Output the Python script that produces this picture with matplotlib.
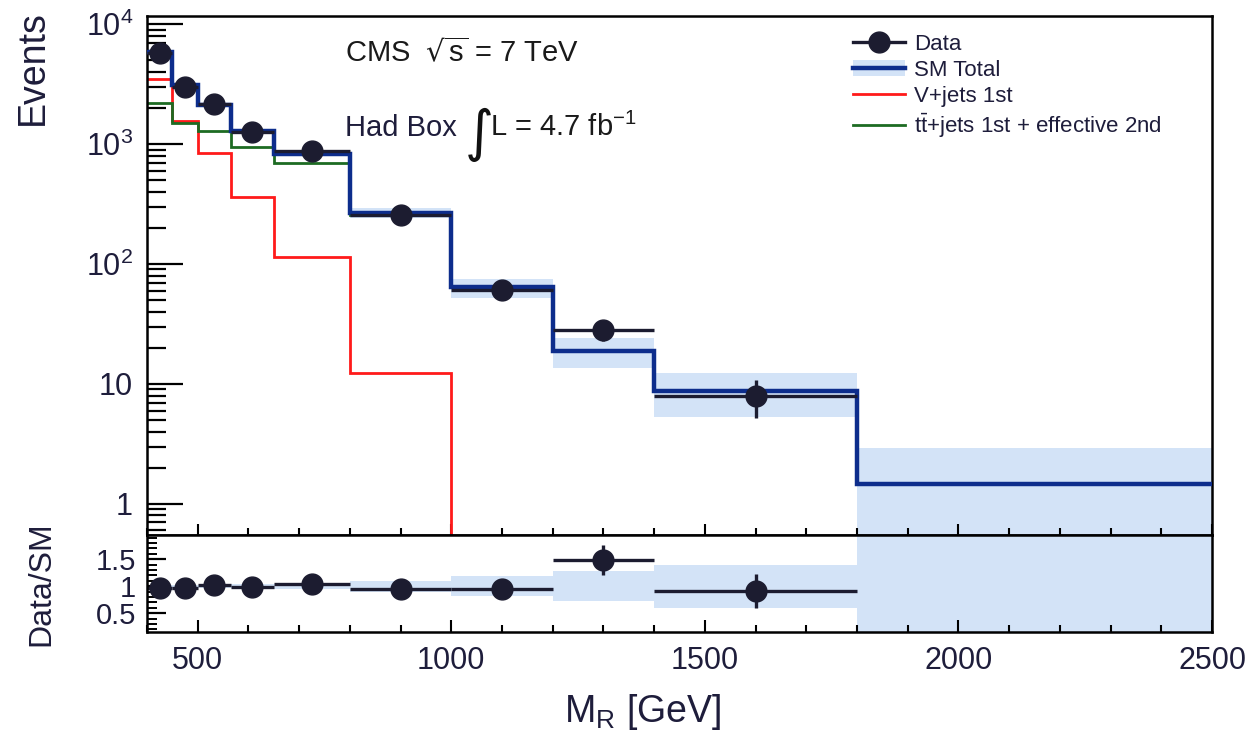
import matplotlib
matplotlib.use("Agg")
import matplotlib.pyplot as plt
import numpy as np
from matplotlib.lines import Line2D
from matplotlib.patches import Patch
from matplotlib.ticker import FixedLocator, FixedFormatter, MultipleLocator, LogLocator, NullFormatter

plt.rcParams['font.family'] = ['Liberation Sans', 'DejaVu Sans']
plt.rcParams['mathtext.default'] = 'regular'

# M_R bin edges [GeV]
edges = [400, 450, 500, 565, 650, 800, 1000, 1200, 1400, 1800, 2500]
# observed events (no data in last bin)
data = [5700, 3000, 2150, 1260, 870, 255, 61, 28, 8]
# predictions
sm_total = [5850, 3080, 2120, 1290, 830, 268, 64, 18.8, 8.8, 1.47]
vjets = [3470, 1550, 840, 360, 115, 12.3, 0, 0, 0, 0]
ttjets = [2190, 1500, 1290, 945, 695, 255, 64, 18.8, 8.8, 1.47]
# relative uncertainty on SM total
sm_rel_err = [0.03, 0.03, 0.03, 0.04, 0.05, 0.10, 0.18, 0.28, 0.40, 1.0]

txt = '#1e1d3b'
band_col = '#d3e3f7'
blue = '#0d2d8c'

edges = np.array(edges, dtype=float)
sm_total = np.array(sm_total)
sm_rel_err = np.array(sm_rel_err)
data = np.array(data, dtype=float)
centers = 0.5 * (edges[1:] + edges[:-1])
halfw = 0.5 * (edges[1:] - edges[:-1])
nd = len(data)

fig = plt.figure(figsize=(12.49, 7.36), dpi=100)
ax = fig.add_axes([0.1177, 0.2731, 0.8527, 0.7052])
rax = fig.add_axes([0.1177, 0.1413, 0.8527, 0.1318], sharex=ax)

# --- upper panel
up = sm_total * (1 + sm_rel_err)
lo = np.maximum(sm_total * (1 - sm_rel_err), 1e-3)
ax.stairs(up, edges, baseline=lo, fill=True, color=band_col, lw=0, zorder=1)
ax.stairs(np.where(np.array(vjets) > 0, vjets, 1e-4), edges, baseline=None, color='#ff1a1a', lw=2, zorder=2)
ax.stairs(ttjets, edges, baseline=None, color='#1d6b22', lw=2, zorder=2)
ax.stairs(sm_total, edges, baseline=None, color=blue, lw=3.2, zorder=3)
ax.errorbar(centers[:nd], data, xerr=halfw[:nd], yerr=np.sqrt(data), fmt='o',
            color='#1c1c30', ms=15, elinewidth=2.4, capsize=0, zorder=4)

ax.set_yscale('log')
ax.set_ylim(0.55, 1.17e4)
ax.set_xlim(400, 2500)
ax.yaxis.set_major_locator(FixedLocator([1, 10, 100, 1000, 10000]))
ax.yaxis.set_major_formatter(FixedFormatter(['1', '10', '$10^2$', '$10^3$', '$10^4$']))
ax.yaxis.set_minor_locator(LogLocator(base=10, subs=np.arange(2, 10)))
ax.yaxis.set_minor_formatter(NullFormatter())
ax.tick_params(axis='y', which='major', direction='in', length=26, width=1.6, labelsize=22,
               labelcolor=txt, pad=10)
ax.tick_params(axis='y', which='minor', direction='in', length=14, width=1.6)
ax.tick_params(axis='x', which='both', direction='in', labelbottom=False, width=1.5)
ax.tick_params(axis='x', which='major', length=8)
ax.tick_params(axis='x', which='minor', length=5)
ax.set_ylabel('Events', fontsize=27, color=txt, labelpad=10)
ax.yaxis.set_label_coords(-0.09, 0.9)

# --- ratio panel
ratio = data / sm_total[:nd]
ratio_err = np.sqrt(data) / sm_total[:nd]
rax.stairs(1 + sm_rel_err, edges, baseline=1 - sm_rel_err, fill=True, color=band_col, lw=0)
rax.errorbar(centers[:nd], ratio, xerr=halfw[:nd], yerr=ratio_err, fmt='o',
             color='#1c1c30', ms=15, elinewidth=2.4, capsize=0)
rax.set_ylim(0.15, 1.95)
rax.yaxis.set_major_locator(FixedLocator([0.5, 1, 1.5]))
rax.yaxis.set_major_formatter(FixedFormatter(['0.5', '1', '1.5']))
rax.yaxis.set_minor_locator(MultipleLocator(0.1))
rax.xaxis.set_major_locator(MultipleLocator(500))
rax.xaxis.set_minor_locator(MultipleLocator(100))
rax.tick_params(axis='y', which='major', direction='in', length=14, width=1.6, labelsize=21,
                labelcolor=txt, pad=8)
rax.tick_params(axis='y', which='minor', direction='in', length=7, width=1.4)
rax.tick_params(axis='x', which='both', direction='in', width=1.5, labelsize=22,
                labelcolor=txt, pad=10)
rax.tick_params(axis='x', which='major', length=9)
rax.tick_params(axis='x', which='minor', length=5)
rax.set_ylabel('Data/SM', fontsize=23, color=txt)
rax.yaxis.set_label_coords(-0.085, 0.5)
rax.set_xlabel('M$_R$ [GeV]', fontsize=27, color=txt, labelpad=12)
rax.xaxis.set_label_coords(0.465, -0.62)

for a in (ax, rax):
    for s in a.spines.values():
        s.set_linewidth(1.8)

# --- annotations
fig.text(345 / 1249, 1 - 62 / 736, 'CMS  $\\sqrt{s}$ = 7 TeV', fontsize=21, color='#1a1a1a',
         va='baseline')
fig.text(345 / 1249, 1 - 136 / 736, 'Had Box', fontsize=21, color=txt, va='baseline')
fig.text(465 / 1249, 1 - 150 / 736, '\u222b', fontsize=40, color='#111111', va='baseline',
         family='DejaVu Sans')
fig.text(490 / 1249, 1 - 136 / 736, 'L = 4.7 fb$^{-1}$', fontsize=21, color='#1a1a1a',
         va='baseline')

# --- legend
handles = [
    Line2D([], [], color='#1c1c30', marker='o', ms=15, lw=2.4),
    (Patch(color=band_col, lw=0), Line2D([], [], color=blue, lw=3.2)),
    Line2D([], [], color='#ff1a1a', lw=2),
    Line2D([], [], color='#1d6b22', lw=2),
]
labels = ['Data', 'SM Total', 'V+jets 1st', 't$\\bar{t}$+jets 1st + effective 2nd']
leg = fig.legend(handles, labels, loc='upper left', bbox_to_anchor=(833 / 1249, 1 - 14 / 736),
                 frameon=False, fontsize=16, handlelength=2.35, labelspacing=0.22,
                 handletextpad=0.4)
for t in leg.get_texts():
    t.set_color(txt)

fig.savefig('out.png', dpi=100)
